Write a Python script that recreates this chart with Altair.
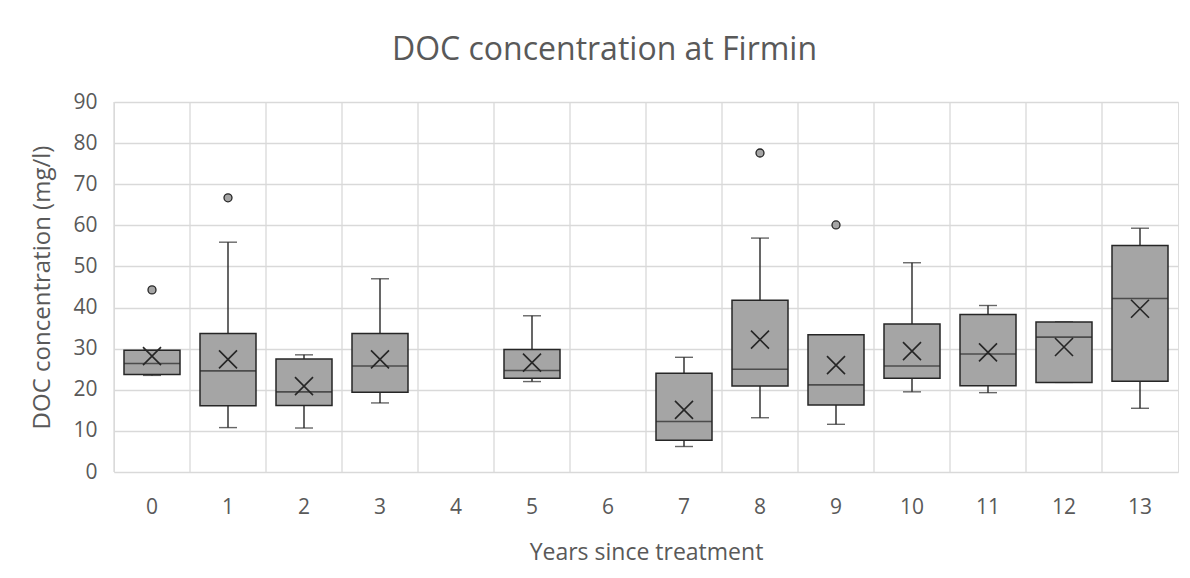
import altair as alt
import pandas as pd

# ---- data ----
categories = [str(i) for i in range(14)]
years  = ["0", "1", "2", "3", "5", "7", "8", "9", "10", "11", "12", "13"]
q1     = [23.7, 16.1, 16.2, 19.4, 22.8, 7.7, 20.9, 16.3, 22.8, 21.0, 21.8, 22.1]
median = [26.4, 24.6, 19.5, 25.8, 24.7, 12.3, 25.0, 21.2, 25.8, 28.7, 32.8, 42.2]
q3     = [29.6, 33.7, 27.5, 33.7, 29.8, 24.0, 41.8, 33.4, 36.0, 38.3, 36.5, 55.1]
w_lo   = [23.5, 10.8, 10.7, 16.8, 22.0, 6.2, 13.2, 11.6, 19.5, 19.3, 21.8, 15.5]
w_hi   = [29.6, 55.9, 28.5, 47.0, 38.0, 27.9, 56.9, 33.4, 50.9, 40.5, 36.5, 59.3]
mean   = [28.2, 27.4, 20.9, 27.4, 26.6, 15.1, 32.2, 26.0, 29.4, 29.1, 30.4, 39.7]
outlier_years  = ["0", "1", "8", "9"]
outlier_values = [44.3, 66.7, 77.6, 60.1]

df = pd.DataFrame({"year": years, "q1": q1, "median": median, "q3": q3,
                   "lo": w_lo, "hi": w_hi, "mean": mean})
out_df = pd.DataFrame({"year": outlier_years, "value": outlier_values})
cat_df = pd.DataFrame({"year": categories})

TEXT = "#595959"
GRID = "#d9d9d9"
DARK = "#262626"
FONT = "Open Sans"

xscale = alt.Scale(domain=categories, paddingInner=0, paddingOuter=0)
yscale = alt.Scale(domain=[0, 90], nice=False)

x_axis = alt.Axis(title="Years since treatment", labelAngle=0, domain=False, ticks=False,
                  grid=False, labelFontSize=21, labelColor=TEXT, labelPadding=24,
                  titleFontSize=23, titleColor=TEXT, titleFontWeight="normal",
                  titlePadding=24, labelFont=FONT, titleFont=FONT)
y_axis = alt.Axis(title="DOC concentration (mg/l)", values=list(range(0, 91, 10)),
                  domain=False, ticks=False, grid=True, gridColor=GRID, gridWidth=1.3,
                  labelFontSize=21, labelColor=TEXT, labelPadding=17,
                  titleFontSize=24, titleColor=TEXT, titleFontWeight="normal",
                  titlePadding=18, labelFont=FONT, titleFont=FONT)

X = alt.X("year:N", scale=xscale, axis=x_axis)

base = alt.Chart(df)

grid_v = alt.Chart(cat_df).mark_rule(color=GRID, strokeWidth=1.3).encode(
    x=alt.X("year:N", scale=xscale, axis=x_axis, bandPosition=0)
)

whisk_lo = base.mark_rule(color=DARK, strokeWidth=1.4).encode(
    x=X, y=alt.Y("lo:Q", scale=yscale, axis=y_axis), y2="q1:Q")
whisk_hi = base.mark_rule(color=DARK, strokeWidth=1.4).encode(
    x=X, y=alt.Y("q3:Q", scale=yscale, axis=y_axis), y2="hi:Q")
cap_lo = base.mark_tick(color=DARK, size=18, thickness=1.4, orient="horizontal").encode(
    x=X, y=alt.Y("lo:Q", scale=yscale, axis=y_axis))
cap_hi = base.mark_tick(color=DARK, size=18, thickness=1.4, orient="horizontal").encode(
    x=X, y=alt.Y("hi:Q", scale=yscale, axis=y_axis))
box = base.mark_bar(size=56, fill="#a5a5a5", stroke=DARK, strokeWidth=1.5).encode(
    x=X, y=alt.Y("q1:Q", scale=yscale, axis=y_axis), y2="q3:Q")
med = base.mark_tick(color=DARK, size=56, thickness=1.6, orient="horizontal").encode(
    x=X, y=alt.Y("median:Q", scale=yscale, axis=y_axis))
mean_pt = base.mark_point(shape="M-1,-1L1,1M-1,1L1,-1", size=324, filled=False,
                          stroke=DARK, strokeWidth=1.6, opacity=1).encode(
    x=X, y=alt.Y("mean:Q", scale=yscale, axis=y_axis))
outl = alt.Chart(out_df).mark_point(shape="circle", filled=True, fill="#a5a5a5",
                                    stroke=DARK, strokeWidth=1.3, size=64, opacity=1).encode(
    x=X, y=alt.Y("value:Q", scale=yscale, axis=y_axis))

chart = alt.layer(grid_v, whisk_lo, whisk_hi, cap_lo, cap_hi, box, med, mean_pt, outl).properties(
    width=1064, height=370,
    title=alt.TitleParams("DOC concentration at Firmin", fontSize=32, color=TEXT,
                          font=FONT, fontWeight="normal", anchor="middle",
                          frame="bounds", offset=24),
    autosize=alt.AutoSizeParams(type="none"),
    padding={"left": 106, "top": 94, "right": 4, "bottom": 97},
).configure_view(stroke=GRID, strokeWidth=1.3).configure(background="white")

chart.save("out.html", embed_options={"renderer": "svg", "actions": False})
